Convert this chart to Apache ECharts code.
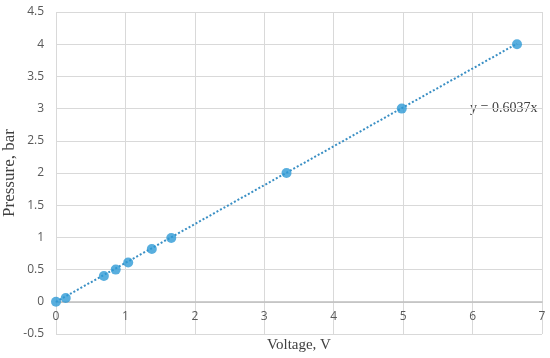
<!DOCTYPE html>
<html>
<head>
<meta charset="utf-8">
<script src="https://cdn.jsdelivr.net/npm/echarts@6/dist/echarts.min.js"></script>
<style>
  html, body { margin: 0; padding: 0; background: #fff; }
  #chart { width: 550px; height: 358px; }
</style>
</head>
<body>
<div id="chart"></div>
<script>
  // measured points
  var voltage = [0, 0.14, 0.69, 0.86, 1.04, 1.38, 1.66, 3.32, 4.98, 6.64];
  var pressure = [0, 0.06, 0.4, 0.5, 0.61, 0.82, 0.99, 2.0, 3.0, 4.0];
  // linear trendline through origin
  var slope = 0.6037;
  var trendX = [0, 6.64];
  var trendLabel = 'y = 0.6037x';

  var points = voltage.map(function (v, i) { return [v, pressure[i]]; });
  var trend = trendX.map(function (v) { return [v, slope * v]; });

  var chart = echarts.init(document.getElementById('chart'));

  var tickText = { color: '#595959', fontSize: 12, fontFamily: 'Open Sans' };

  chart.setOption({
    animation: false,
    grid: { left: 56, right: 8, top: 12, bottom: 24, containLabel: false, outerBoundsMode: 'none' },
    xAxis: {
      type: 'value',
      min: 0, max: 7, interval: 1,
      // axis sits on y = 0 (half a step above the bottom edge)
      offset: -32.2,
      name: 'Voltage, V',
      nameLocation: 'middle',
      nameGap: 36,
      nameMoveOverlap: false,
      nameTextStyle: { color: '#404040', fontSize: 15, fontFamily: 'Liberation Serif' },
      axisLine: { onZero: false, lineStyle: { color: '#bfbfbf', width: 1.5 } },
      axisTick: { show: false },
      axisLabel: Object.assign({ margin: 9 }, tickText),
      splitLine: { show: true, lineStyle: { color: '#d9d9d9' } }
    },
    yAxis: {
      type: 'value',
      min: -0.5, max: 4.5, interval: 0.5,
      name: 'Pressure, bar',
      nameLocation: 'middle',
      nameGap: 38,
      nameMoveOverlap: false,
      nameTextStyle: { color: '#404040', fontSize: 17, fontFamily: 'Liberation Serif' },
      axisLine: { show: false },
      axisTick: { show: false },
      axisLabel: Object.assign({ margin: 12 }, tickText),
      splitLine: { show: true, lineStyle: { color: '#d9d9d9' } }
    },
    series: [
      {
        type: 'line',
        data: trend,
        symbol: 'none',
        lineStyle: { color: '#3a8fc4', width: 2, type: [2, 2] },
        silent: true,
        z: 2
      },
      {
        type: 'scatter',
        data: points,
        symbolSize: 10,
        itemStyle: { color: '#2e9ad6' },
        z: 3
      }
    ],
    graphic: [{
      type: 'text',
      left: 470,
      top: 101,
      style: { text: trendLabel, fill: '#404040', fontSize: 14, fontFamily: 'Liberation Serif' }
    }]
  });
</script>
</body>
</html>
